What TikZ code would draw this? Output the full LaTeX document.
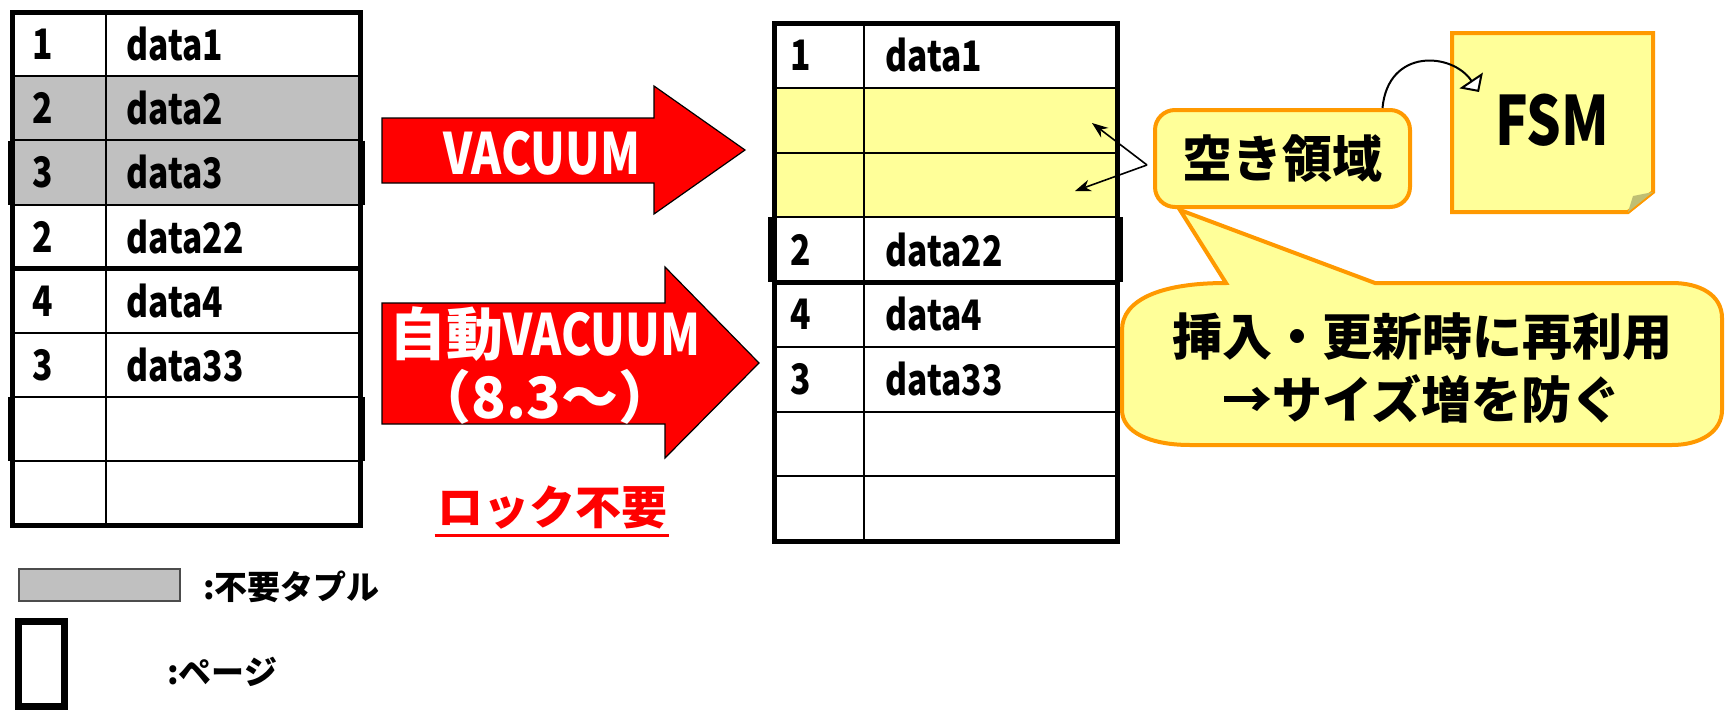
\documentclass[tikz,border=0pt]{standalone}
\usepackage{fontspec}
\setmainfont{Noto Sans CJK JP}
\newfontfamily\latfont{Noto Sans CJK JP}[FakeStretch=0.8]
\usetikzlibrary{arrows.meta}
\definecolor{vred}{HTML}{FF0000}
\definecolor{vyellow}{HTML}{FFFF99}
\definecolor{vorange}{HTML}{FF9900}
\definecolor{vgray}{HTML}{C0C0C0}

\begin{document}
\begin{tikzpicture}[x=0.5pt,y=-0.5pt,every node/.style={inner sep=0pt}]
  \tikzset{
    cell/.style={font=\bfseries\latfont\fontsize{21}{24}\selectfont},
    pageframe/.style={draw,line width=2.5pt},
    pageside/.style={line width=3.5pt}, % wider page edge
    rowline/.style={line width=1pt},
    redarrow/.style={fill=vred,draw=black,line width=0.6pt},
    arrowtext/.style={text=white,font=\bfseries\fontsize{28.5}{31.5}\selectfont},
    note/.style={draw=vorange,fill=vyellow,line width=2pt},
    pointer/.style={-{Stealth[length=8pt,width=6pt]},line width=0.8pt}
  }
  \useasboundingbox (0,0) rectangle (1726,712);

  % table before VACUUM
  \fill[vgray] (12,76.4) rectangle (360,204.8);
  \foreach \r in {1,...,7} \draw[rowline] (12,12+64.2*\r) -- (360,12+64.2*\r);
  \draw[rowline] (106,12) -- (106,525.6);
  \draw[pageframe] (12,12) rectangle (360,268.8);
  \draw[pageframe] (12,268.8) rectangle (360,525.6);
  \foreach \ya/\yb in {140.6/204.8,397.2/461.4} {
    \draw[pageside] (11,\ya) -- (11,\yb);
    \draw[pageside] (361,\ya) -- (361,\yb);
  }
  \foreach \i/\n/\d in {1/1/data1,2/2/data2,3/3/data3,4/2/data22,5/4/data4,6/3/data33} {
    \node[cell] (lnum\i) at (43,12+64.2*\i-32.1) {\n};
    \node[cell,anchor=west] (ldat\i) at (126,12+64.2*\i-32.1) {\d};
  }

  % table after VACUUM
  \fill[vyellow] (774,87.75) rectangle (1117,217.25);
  \foreach \r in {1,...,7} \draw[rowline] (774,23+64.75*\r) -- (1117,23+64.75*\r);
  \draw[rowline] (864,23) -- (864,541);
  \draw[pageframe] (774,23) rectangle (1117,282);
  \draw[pageframe] (774,282) rectangle (1117,541);
  \draw[pageside] (771,217.25) -- (771,282);
  \draw[pageside] (1119,217.25) -- (1119,282);
  \foreach \i/\n/\d in {1/1/data1,4/2/data22,5/4/data4,6/3/data33} {
    \node[cell] (rnum\i) at (801,23+64.75*\i-32.4) {\n};
    \node[cell,anchor=west] (rdat\i) at (885,23+64.75*\i-32.4) {\d};
  }

  % red arrows
  \draw[redarrow] (382,118) -- (654,118) -- (654,86) -- (745,150) -- (654,214) -- (654,183) -- (382,183) -- cycle;
  \node[arrowtext] (vac) at (542,153) {\latfont VACUUM};
  \draw[redarrow] (382,303) -- (665,303) -- (665,267) -- (759,363) -- (665,458) -- (665,424) -- (382,424) -- cycle;
  \node[arrowtext,align=center] (autovac) at (545,366) {自動{\latfont VACUUM}\\（8.3～）};
  \node[text=vred,font=\bfseries\fontsize{23}{26}\selectfont] (nolock) at (552,508) {ロック不要};
  \draw[vred,line width=1.5pt] ([xshift=-1pt,yshift=-2.5pt]nolock.south west) -- ([xshift=1pt,yshift=-2.5pt]nolock.south east);

  % callouts
  \draw[note] (1226,283) -- (1180,210) -- (1375,283) -- (1672,283)
    .. controls (1700,283) and (1722,295) .. (1722,318) -- (1722,410)
    .. controls (1722,432) and (1700,445) .. (1672,445) -- (1190,445)
    .. controls (1150,445) and (1122,432) .. (1122,410) -- (1122,330)
    .. controls (1122,300) and (1160,283) .. (1226,283) -- cycle;
  \node[align=center,font=\bfseries\fontsize{25}{31.5}\selectfont] (reuse) at (1422,368) {挿入・更新時に再利用\\→サイズ増を防ぐ};
  \node[note,rounded corners=10pt,minimum width=127.5pt,minimum height=48.5pt,
        font=\bfseries\fontsize{25}{28}\selectfont] (free) at (1282.5,158.5) {空き領域};
  \draw[note] (1452,33) -- (1653,33) -- (1653,192) -- (1628,212) -- (1452,212) -- cycle;
  \fill[vyellow!75!black] (1653,192) -- (1633,196) -- (1628,212) -- cycle; % folded corner
  \node[font=\bfseries\latfont\fontsize{34}{36}\selectfont] (fsm) at (1552,120) {FSM};

  % pointers
  \coordinate (fork) at (1147,165);
  \coordinate (slot1) at (1092,123);
  \coordinate (slot2) at (1075,191);
  \coordinate (fsmin) at (1479,92);
  \draw[pointer] (fork) -- (slot1);
  \draw[pointer] (fork) -- (slot2);
  \draw[line width=1pt,-{Triangle[fill=white,length=7pt,width=14pt]}]
    ([xshift=50pt]free.north) .. controls (1388,48) and (1452,52) .. (fsmin);

  % legend
  \draw[draw=black!70,fill=vgray,line width=1pt] (19,569) rectangle (180,601);
  \node[anchor=west,font=\bfseries\fontsize{16.5}{18}\selectfont] (lgtuple) at (203,587) {:不要タプル};
  \draw[line width=3.5pt] (18.5,621.5) rectangle (64.5,706);
  \node[anchor=west,font=\bfseries\fontsize{16.5}{18}\selectfont] (lgpage) at (167,672) {:ページ};
\end{tikzpicture}
\end{document}
